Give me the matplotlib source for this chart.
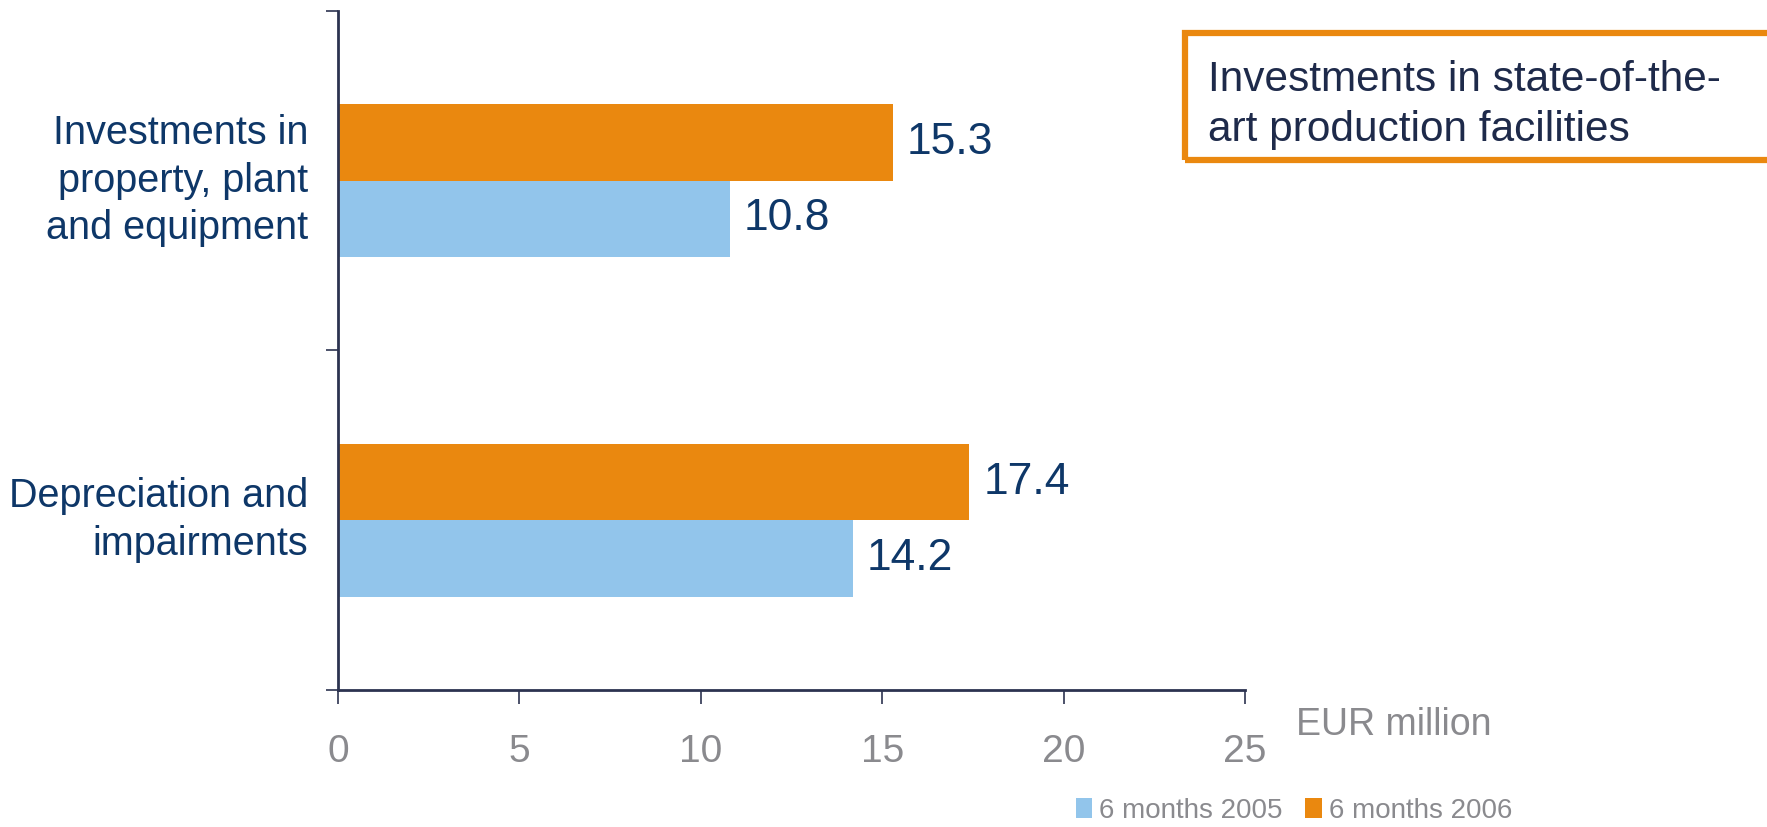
import matplotlib
matplotlib.use("Agg")
from matplotlib import pyplot as plt
from matplotlib.patches import Rectangle

categories = ["Investments in\nproperty, plant\nand equipment", "Depreciation and\nimpairments"]
series_names = ["6 months 2005", "6 months 2006"]
values_2005 = [10.8, 14.2]
values_2006 = [15.3, 17.4]
x_ticks = [0, 5, 10, 15, 20, 25]
box_text = "Investments in state-of-the-\nart production facilities"
unit_text = "EUR million"

blue = "#92C5EB"
orange = "#EA880F"
navy = "#0E3768"
grey = "#8A8A8E"
axis_col = "#2C3350"

plt.rcParams['font.family'] = ['Liberation Sans', 'DejaVu Sans']

fig = plt.figure(figsize=(17.67, 8.27), dpi=100)
ax = fig.add_axes([0.1913, 0.1657, 0.5133, 0.821])

h = 0.225
ypos = list(range(len(categories)))
bars05 = ax.barh([y + h / 2 for y in ypos], values_2005, height=h, color=blue, label=series_names[0])
bars06 = ax.barh([y - h / 2 for y in ypos], values_2006, height=h, color=orange, label=series_names[1])

for bars, vals in ((bars05, values_2005), (bars06, values_2006)):
    for b, v in zip(bars, vals):
        ax.annotate(f"{v:.1f}", (b.get_width(), b.get_y() + b.get_height() / 2),
                    xytext=(10, 0), textcoords="offset points",
                    va="center", ha="left", fontsize=32, color=navy)

ax.set_xlim(0, 25)
ax.set_ylim(1.5, -0.5)
ax.set_xticks(x_ticks)
ax.set_xticklabels([str(t) for t in x_ticks])
ax.set_yticks([-0.5, 0.5, 1.5])
ax.set_yticklabels([])
ax.tick_params(axis='x', direction='out', length=10, width=1.2, colors=axis_col,
               labelcolor=grey, labelsize=28, pad=22)
ax.tick_params(axis='y', direction='out', length=9, width=1.2, colors=axis_col)
for side in ("top", "right"):
    ax.spines[side].set_visible(False)
for side in ("left", "bottom"):
    ax.spines[side].set_color(axis_col)
    ax.spines[side].set_linewidth(2)

for y, lab in zip(ypos, categories):
    ax.text(-0.033, y, lab, transform=ax.get_yaxis_transform(), ha="right", va="center",
            fontsize=28.5, color=navy, linespacing=1.32)

fig.text(1296 / 1767, 1 - 735 / 827, unit_text, fontsize=27, color=grey, ha="left", va="baseline")

# boxed note in upper right
fig.patches.append(Rectangle((1185 / 1767, 1 - 160 / 827), 0.4, 127 / 827,
                             transform=fig.transFigure, fill=False,
                             edgecolor=orange, linewidth=4.5))
fig.text(1208 / 1767, 1 - 105 / 827, box_text, fontsize=30.5, color="#1E2A4A",
         ha="left", va="center", linespacing=1.3)

leg = fig.legend(handles=[bars05, bars06], loc="center right",
                 bbox_to_anchor=(1512 / 1767, 1 - 811 / 827), frameon=False,
                 fontsize=20, labelcolor=grey, handlelength=0.6, handleheight=0.75,
                 handletextpad=0.25, columnspacing=0.8, ncol=2, borderaxespad=0, borderpad=0)

fig.savefig("out.png", dpi=100)
